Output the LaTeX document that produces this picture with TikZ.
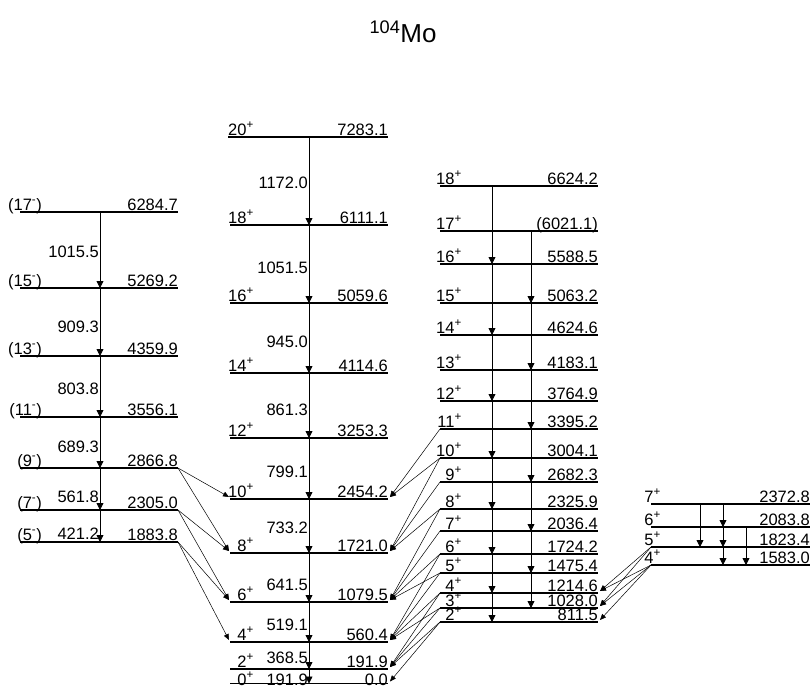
\documentclass[tikz,border=0pt]{standalone}
\usepackage{fontspec}
\setmainfont{Liberation Sans}
\usetikzlibrary{arrows.meta}
\newcommand\mklevel[7]{%
  \coordinate (#1L) at (#2,#4);
  \coordinate (#1R) at (#3,#4);
  \draw[lvline] (#1L) -- (#1R);
  \node[lab, anchor=base east] (#1s) at (#5,#4-2) {#6};
  \node[lab, anchor=base east] (#1e) at (#3,#4-2) {#7};
}
\newcommand\tlab[4]{\node[lab, anchor=base east] (#1) at (#2,#3) {#4};}
\newcommand\vtr[3]{\draw[vtrans] (#2 -| #1) -- (#3 -| #1);}
\newcommand\supx[1]{\textsuperscript{#1}}
\begin{document}
\begin{tikzpicture}[x=1pt,y=-1pt,
  lab/.style={inner sep=0pt, font=\fontsize{16.5}{18}\selectfont},
  lvline/.style={line width=1.1pt},
  vtrans/.style={line width=0.8pt, -{Triangle[length=7pt,width=7pt]}},
  xtrans/.style={line width=0.5pt, -{Triangle[length=6pt,width=5pt]}}]
\useasboundingbox (0,0) rectangle (810,685);
\fill[white] (0,0) rectangle (810,685);
% title
\node[inner sep=0pt, anchor=base, font=\fontsize{26}{28}\selectfont] (title) at (403,43) {\textsuperscript{104}Mo};
% column x positions
\coordinate (nx) at (100,0);
\coordinate (gx) at (309,0);
\coordinate (ex) at (492,0);
\coordinate (ox) at (531,0);
\coordinate (fa) at (700,0);
\coordinate (fb) at (723,0);
\coordinate (fc) at (746,0);
% left band
\mklevel{n17}{20}{178}{212}{42}{(17\supx{-})}{6284.7}
\mklevel{n15}{20}{178}{288}{42}{(15\supx{-})}{5269.2}
\mklevel{n13}{20}{178}{356}{42}{(13\supx{-})}{4359.9}
\mklevel{n11}{20}{178}{417}{42}{(11\supx{-})}{3556.1}
\mklevel{n9}{20}{178}{468}{42}{(9\supx{-})}{2866.8}
\mklevel{n7}{20}{178}{510}{42}{(7\supx{-})}{2305.0}
\mklevel{n5}{20}{178}{542}{42}{(5\supx{-})}{1883.8}
% ground band
\mklevel{g20}{228}{388}{137}{254}{20\supx{+}}{7283.1}
\mklevel{g18}{230}{388}{225}{254}{18\supx{+}}{6111.1}
\mklevel{g16}{230}{388}{303}{254}{16\supx{+}}{5059.6}
\mklevel{g14}{230}{388}{373}{254}{14\supx{+}}{4114.6}
\mklevel{g12}{230}{388}{438}{254}{12\supx{+}}{3253.3}
\mklevel{g10}{230}{388}{499}{254}{10\supx{+}}{2454.2}
\mklevel{g8}{230}{388}{553}{254}{8\supx{+}}{1721.0}
\mklevel{g6}{230}{388}{602}{254}{6\supx{+}}{1079.5}
\mklevel{g4}{230}{388}{642}{254}{4\supx{+}}{560.4}
\mklevel{g2}{230}{388}{669}{254}{2\supx{+}}{191.9}
\coordinate (g0L) at (230,683.5);
\coordinate (g0R) at (388,683.5);
\draw[lvline] (g0L) -- (g0R);
\node[lab, anchor=base east] (g0s) at (254,685) {0\supx{+}};
\node[lab, anchor=base east] (g0e) at (388,685) {0.0};
% gamma band
\mklevel{c18}{440}{598}{186}{462}{18\supx{+}}{6624.2}
\mklevel{c17}{440}{598}{231}{462}{17\supx{+}}{(6021.1)}
\mklevel{c16}{440}{598}{264}{462}{16\supx{+}}{5588.5}
\mklevel{c15}{440}{598}{303}{462}{15\supx{+}}{5063.2}
\mklevel{c14}{440}{598}{335}{462}{14\supx{+}}{4624.6}
\mklevel{c13}{440}{598}{370}{462}{13\supx{+}}{4183.1}
\mklevel{c12}{440}{598}{401}{462}{12\supx{+}}{3764.9}
\mklevel{c11}{440}{598}{429}{462}{11\supx{+}}{3395.2}
\mklevel{c10}{440}{598}{458}{462}{10\supx{+}}{3004.1}
\mklevel{c9}{440}{598}{482}{462}{9\supx{+}}{2682.3}
\mklevel{c8}{440}{598}{509}{462}{8\supx{+}}{2325.9}
\mklevel{c7}{440}{598}{531}{462}{7\supx{+}}{2036.4}
\mklevel{c6}{440}{598}{554}{462}{6\supx{+}}{1724.2}
\mklevel{c5}{440}{598}{573}{462}{5\supx{+}}{1475.4}
\mklevel{c4}{440}{598}{593}{462}{4\supx{+}}{1214.6}
\mklevel{c3}{440}{598}{608}{462}{3\supx{+}}{1028.0}
\mklevel{c2}{440}{598}{622}{462}{2\supx{+}}{811.5}
% far right band
\mklevel{d7}{651}{810}{504}{661}{7\supx{+}}{2372.8}
\mklevel{d6}{651}{810}{527}{661}{6\supx{+}}{2083.8}
\mklevel{d5}{651}{810}{547}{661}{5\supx{+}}{1823.4}
\mklevel{d4}{651}{810}{565}{661}{4\supx{+}}{1583.0}
% left band transitions
\vtr{nx}{n17L}{n15L} \vtr{nx}{n15L}{n13L} \vtr{nx}{n13L}{n11L}
\vtr{nx}{n11L}{n9L} \vtr{nx}{n9L}{n7L} \vtr{nx}{n7L}{n5L}
\tlab{t1}{99}{257}{1015.5}
\tlab{t2}{99}{332}{909.3}
\tlab{t3}{99}{394}{803.8}
\tlab{t4}{99}{452}{689.3}
\tlab{t5}{99}{502}{561.8}
\tlab{t6}{99}{539}{421.2}
% ground band transitions
\vtr{gx}{g20L}{g18L} \vtr{gx}{g18L}{g16L} \vtr{gx}{g16L}{g14L}
\vtr{gx}{g14L}{g12L} \vtr{gx}{g12L}{g10L} \vtr{gx}{g10L}{g8L}
\vtr{gx}{g8L}{g6L} \vtr{gx}{g6L}{g4L} \vtr{gx}{g4L}{g2L} \vtr{gx}{g2L}{g0L}
\tlab{u1}{308}{188}{1172.0}
\tlab{u2}{308}{273}{1051.5}
\tlab{u3}{308}{347}{945.0}
\tlab{u4}{308}{415}{861.3}
\tlab{u5}{308}{477}{799.1}
\tlab{u6}{308}{533}{733.2}
\tlab{u7}{308}{590}{641.5}
\tlab{u8}{308}{630}{519.1}
\tlab{u9}{308}{663}{368.5}
\tlab{u10}{308}{685}{191.9}
% gamma band transitions
\vtr{ex}{c18L}{c16L} \vtr{ex}{c16L}{c14L} \vtr{ex}{c14L}{c12L}
\vtr{ex}{c12L}{c10L} \vtr{ex}{c10L}{c8L} \vtr{ex}{c8L}{c6L}
\vtr{ex}{c6L}{c4L} \vtr{ex}{c4L}{c2L}
\vtr{ox}{c17L}{c15L} \vtr{ox}{c15L}{c13L} \vtr{ox}{c13L}{c11L}
\vtr{ox}{c11L}{c9L} \vtr{ox}{c9L}{c7L} \vtr{ox}{c7L}{c5L} \vtr{ox}{c5L}{c3L}
% far right transitions
\vtr{fa}{d7L}{d5L}
\vtr{fb}{d7L}{d6L} \vtr{fb}{d6L}{d5L} \vtr{fb}{d5L}{d4L}
\vtr{fc}{d6L}{d4L}
% negative parity -> ground band
\foreach \a/\b in {n9/g10, n9/g8, n7/g8, n7/g6, n5/g6, n5/g4}
  \draw[xtrans] (\a R) -- ([shift={(-1,-2)}]\b L);
% gamma -> ground band
\foreach \a/\b in {c11/g10, c10/g10, c10/g8, c9/g8, c8/g8, c8/g6, c7/g6, c6/g6, c6/g4, c5/g6, c5/g4, c4/g4, c4/g2, c3/g4, c3/g2, c2/g2, c2/g0}
  \draw[xtrans] (\a L) -- ([shift={(2,-2)}]\b R);
% far band -> gamma band
\foreach \a/\b in {d5/c4, d5/c3, d4/c4, d4/c3, d4/c2}
  \draw[xtrans] (\a L) -- ([shift={(2,-2)}]\b R);
\end{tikzpicture}
\end{document}
